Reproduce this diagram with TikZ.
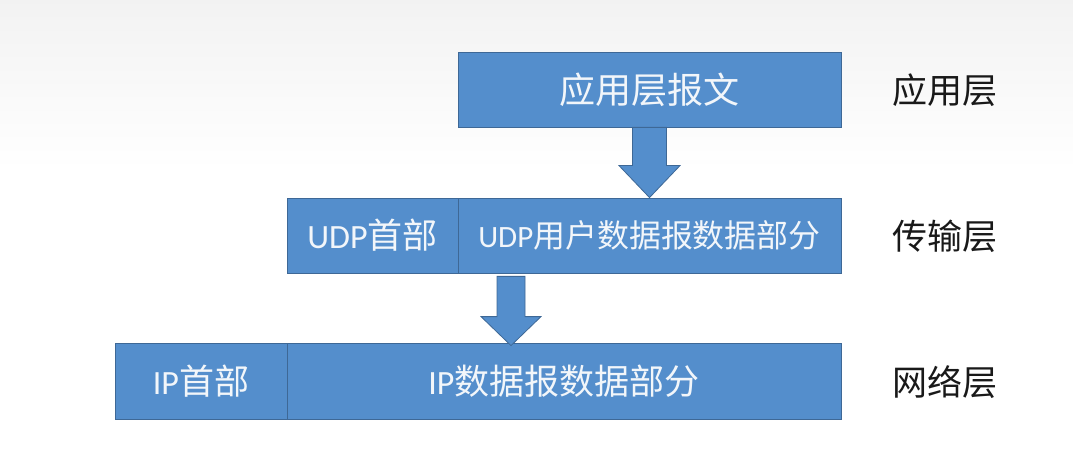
\documentclass[tikz,border=0pt]{standalone}
\usepackage{fontspec}
\setmainfont{Carlito}
\newfontfamily\cjk{Noto Sans CJK SC}[Scale=1.03]
\usetikzlibrary{calc}
\definecolor{boxfill}{RGB}{84,142,204}
\definecolor{boxline}{RGB}{62,104,150}
\definecolor{boxtext}{RGB}{242,246,250}
\definecolor{labeltext}{RGB}{25,25,25}
\tikzset{
  box/.style={draw=boxline, line width=0.8pt, fill=boxfill, text=boxtext, inner sep=0pt,
    font=\fontsize{34}{40}\selectfont},
  smallbox/.style={box, font=\fontsize{31}{37}\selectfont},
  bigbox/.style={box, font=\fontsize{35}{41}\selectfont},
  layerlabel/.style={text=labeltext, inner sep=0pt, font=\fontsize{34}{40}\selectfont\cjk},
  blockarrow/.style={draw=boxline, line width=0.8pt, fill=boxfill, line join=miter}
}
\begin{document}
\begin{tikzpicture}[x=1pt,y=-1pt]
\path[use as bounding box] (0,0) rectangle (1073,462);
\fill[top color=black!5, bottom color=white] (0,0) rectangle (1073,170);
% boxes
\node[bigbox, minimum width=383pt, minimum height=75pt] (app) at (649.5,89.5) {\cjk 应用层报文};
\node[box, minimum width=171pt, minimum height=75pt] (udph) at (372.5,235.5) {UDP{\cjk 首部}};
\node[smallbox, minimum width=383pt, minimum height=75pt] (udpd) at (649.5,235.5) {UDP{\cjk 用户数据报数据部分}};
\node[box, minimum width=172pt, minimum height=76pt] (iph) at (201,381) {IP{\cjk 首部}};
\node[box, minimum width=554pt, minimum height=76pt] (ipd) at (564,381) {IP{\cjk 数据报数据部分}};
% layer labels
\node[layerlabel] (l1) at (945,90) {应用层};
\node[layerlabel] (l2) at (945,236) {传输层};
\node[layerlabel] (l3) at (945,382) {网络层};
% arrow 1: app -> udp data
\coordinate (a1s) at (app.south);
\coordinate (a1e) at (udpd.north);
\draw[blockarrow] ($(a1s)+(-17,0)$) -- ($(a1e)+(-17,-32)$) -- ($(a1e)+(-30.5,-32)$)
  -- (a1e) -- ($(a1e)+(30.5,-32)$) -- ($(a1e)+(17,-32)$) -- ($(a1s)+(17,0)$) -- cycle;
% arrow 2: udp -> ip
\coordinate (a2s) at ($(udph.south -| 511,0)+(0,3)$);
\coordinate (a2e) at ($(ipd.north -| 511,0)+(0,3)$);
\draw[blockarrow] ($(a2s)+(-14,0)$) -- ($(a2e)+(-14,-29)$) -- ($(a2e)+(-30,-29)$)
  -- (a2e) -- ($(a2e)+(30,-29)$) -- ($(a2e)+(14,-29)$) -- ($(a2s)+(14,0)$) -- cycle;
\end{tikzpicture}
\end{document}
